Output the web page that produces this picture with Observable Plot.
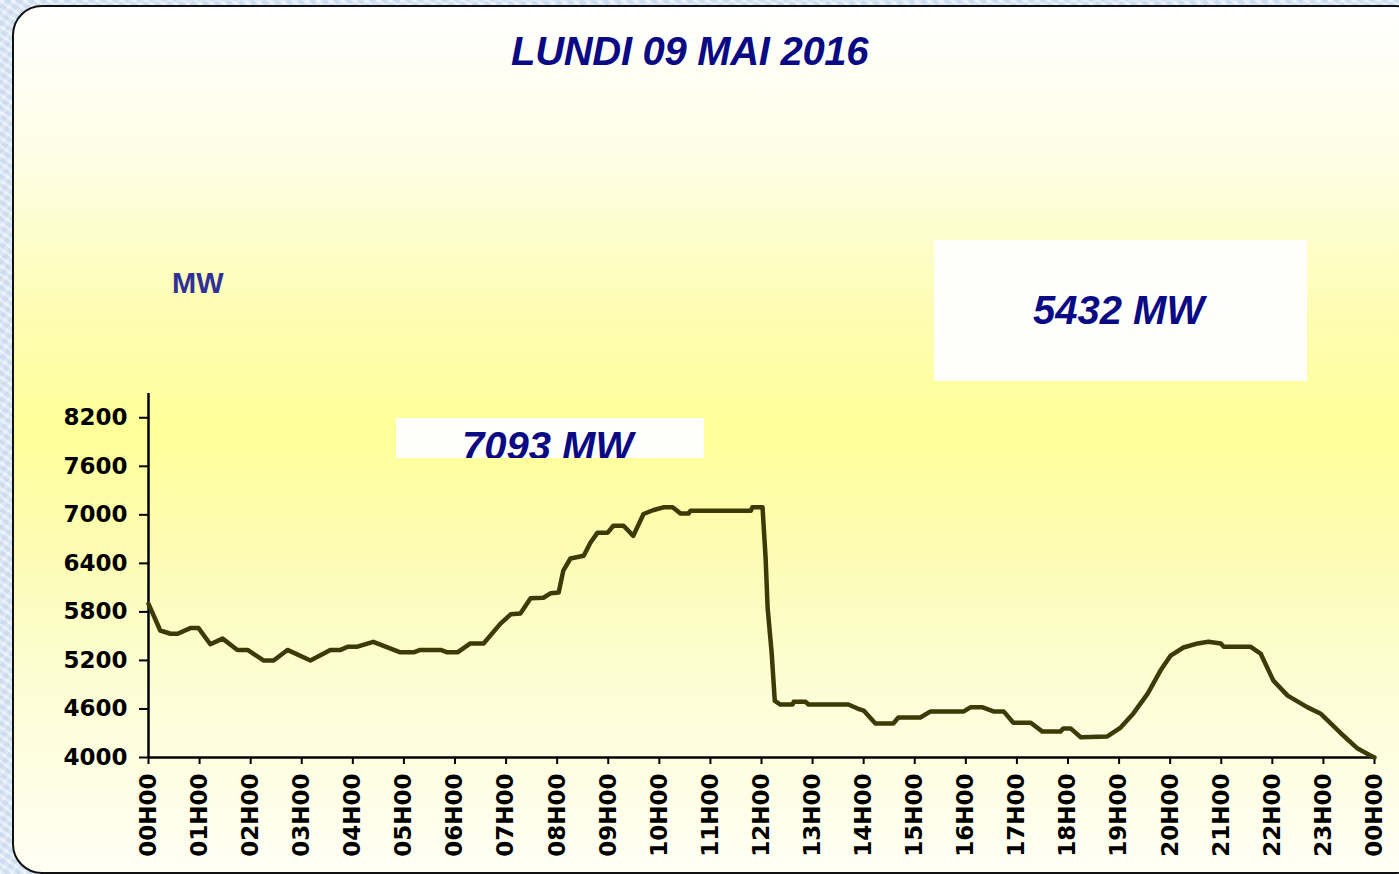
<!DOCTYPE html>
<html>
<head>
<meta charset="utf-8">
<script src="https://cdn.jsdelivr.net/npm/d3@7"></script>
<script src="https://cdn.jsdelivr.net/npm/@observablehq/plot@0.6"></script>
<style>
  html, body { margin: 0; padding: 0; width: 1399px; height: 874px; overflow: hidden; }
  body {
    background-color: #d9e6f4;
    background-image:
      repeating-linear-gradient(35deg, rgba(255,255,255,0.35) 0 3px, rgba(190,210,235,0.25) 3px 7px),
      repeating-linear-gradient(-50deg, rgba(255,255,255,0.25) 0 4px, rgba(180,200,230,0.2) 4px 9px);
    position: relative;
    font-family: "Liberation Sans", Arial, sans-serif;
  }
  #panel {
    position: absolute; left: 12px; top: 5px; width: 1410px; height: 865px;
    border: 2px solid #111; border-radius: 30px;
    background: linear-gradient(to bottom, #ffffff 0%, #fefee4 18%, #fdfdb4 35%, #ffff99 49%, #fcfcb2 62%, #fdfdd4 78%, #fffff4 100%);
  }
  #chart { position: absolute; left: 0; top: 0; }
  .title {
    position: absolute; left: 511px; top: 29px;
    font: italic bold 40px "Liberation Sans", Arial, sans-serif; color: #0a0a84;
    letter-spacing: -0.3px; white-space: nowrap;
  }
  .unit {
    position: absolute; left: 172px; top: 267px;
    font: bold 29px "Liberation Sans", Arial, sans-serif; color: #303096;
  }
  .box {
    position: absolute; background: #fefefd; overflow: hidden;
  }
  .box span {
    position: absolute; white-space: nowrap;
    font: italic bold 40px "Liberation Sans", Arial, sans-serif; color: #0a0a84;
  }
</style>
</head>
<body>
<div id="panel"></div>
<div id="chart"></div>
<div class="title">LUNDI 09 MAI 2016</div>
<div class="unit">MW</div>
<div class="box" style="left:396px;top:418px;width:308px;height:40px;"><span id="lblMax" style="left:66px;top:6px;"></span></div>
<div class="box" style="left:934px;top:240px;width:373px;height:141px;"><span id="lblEve" style="left:99px;top:48px;"></span></div>
<script>
// Time of day (decimal hours) and load (MW)
const hours = [0.00,0.23,0.43,0.57,0.82,0.98,1.21,1.45,1.74,1.94,2.25,2.45,2.72,3.17,3.56,3.76,3.90,4.09,4.40,4.93,
  5.19,5.32,5.72,5.85,6.05,6.30,6.56,6.89,7.09,7.28,7.48,7.73,7.87,8.03,8.12,8.26,8.52,8.65,8.79,8.99,
  9.10,9.30,9.49,9.69,9.89,10.08,10.26,10.42,10.57,10.61,11.79,11.82,12.02,12.08,12.12,12.20,12.26,12.37,12.61,12.63,
  12.86,12.92,13.70,13.88,14.00,14.23,14.58,14.68,15.11,15.31,15.96,16.09,16.33,16.54,16.74,16.93,17.27,17.50,17.85,17.91,
  18.05,18.25,18.77,19.03,19.28,19.56,19.81,20.01,20.26,20.54,20.75,20.99,21.05,21.57,21.77,22.02,22.30,22.69,22.94,23.34,
  23.67,23.92,24.00];
const loadMW = [5900,5570,5530,5530,5600,5600,5400,5470,5330,5330,5200,5200,5330,5200,5330,5330,5370,5370,5430,5300,
  5300,5330,5330,5300,5300,5410,5410,5655,5770,5780,5970,5975,6030,6040,6310,6460,6495,6655,6780,6780,
  6865,6865,6740,7010,7060,7093,7093,7015,7015,7050,7050,7093,7093,6470,5850,5285,4700,4655,4655,4690,
  4690,4655,4655,4605,4580,4420,4420,4495,4495,4570,4570,4620,4620,4570,4570,4430,4430,4320,4320,4360,
  4360,4250,4260,4370,4545,4790,5075,5260,5360,5410,5432,5410,5370,5370,5285,4950,4765,4620,4545,4300,
  4110,4025,4000];
const xTicks = d3.range(0, 25);
const xTickLabels = ["00H00","01H00","02H00","03H00","04H00","05H00","06H00","07H00","08H00","09H00","10H00","11H00",
  "12H00","13H00","14H00","15H00","16H00","17H00","18H00","19H00","20H00","21H00","22H00","23H00","00H00"];
const yTicks = [4000,4600,5200,5800,6400,7000,7600,8200];
const maxLabel = "7093 MW";
const eveningLabel = "5432 MW";

document.getElementById("lblMax").textContent = maxLabel;
document.getElementById("lblEve").textContent = eveningLabel;

const data = hours.map((h, i) => ({h, mw: loadMW[i]}));

const chart = Plot.plot({
  width: 1399,
  height: 874,
  marginLeft: 148,
  marginRight: 25,
  marginTop: 393,
  marginBottom: 117,
  style: {background: "transparent", fontFamily: "DejaVu Sans", fontWeight: "bold", fontSize: "23px", color: "#000"},
  x: {domain: [0, 24]},
  y: {domain: [4000, 8500]},
  marks: [
    Plot.axisY({ticks: yTicks, tickSize: 9, tickPadding: 12, tickFormat: d => String(d), label: null,
      fontSize: 23, fontWeight: "bold", stroke: "#000", strokeWidth: 2}),
    Plot.axisX({ticks: xTicks, tickFormat: d => xTickLabels[d], tickRotate: -90, tickSize: 7, tickPadding: 9,
      label: null, fontSize: 23, fontWeight: "bold", stroke: "#000", strokeWidth: 2}),
    Plot.ruleX([0], {y1: 4000, y2: 8500, stroke: "#000", strokeWidth: 2.5}),
    Plot.ruleY([4000], {x1: 0, x2: 24, stroke: "#000", strokeWidth: 2.5}),
    Plot.line(data, {x: "h", y: "mw", stroke: "#3c3a06", strokeWidth: 4.5, strokeLinejoin: "round"})
  ]
});
document.getElementById("chart").appendChild(chart);
</script>
</body>
</html>
